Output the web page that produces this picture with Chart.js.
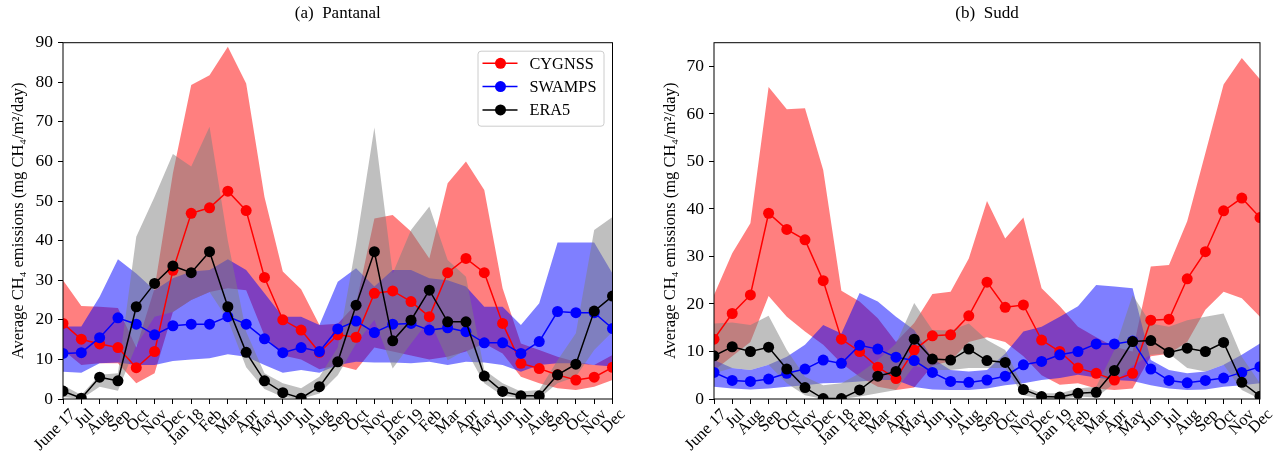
<!DOCTYPE html>
<html>
<head>
<meta charset="utf-8">
<script src="https://cdn.jsdelivr.net/npm/chart.js@4.4.0/dist/chart.umd.min.js"></script>
<style>
  html, body { margin: 0; padding: 0; background: #fff; }
  #wrap { position: relative; width: 1275px; height: 454px; }
  .panel { position: absolute; top: 0; height: 454px; }
  #p1 { left: 0; width: 637px; }
  #p2 { left: 637px; width: 638px; }
</style>
</head>
<body>
<div id="wrap">
  <div class="panel" id="p1"><canvas id="pantanalChart"></canvas></div>
  <div class="panel" id="p2"><canvas id="suddChart"></canvas></div>
</div>
<script>
const months = ['June 17', 'Jul', 'Aug', 'Sep', 'Oct', 'Nov', 'Dec', 'Jan 18', 'Feb', 'Mar', 'Apr', 'May', 'Jun', 'Jul', 'Aug', 'Sep',
  'Oct', 'Nov', 'Dec', 'Jan 19', 'Feb', 'Mar', 'Apr', 'May', 'Jun', 'Jul', 'Aug', 'Sep', 'Oct', 'Nov', 'Dec'];

// (a) Pantanal
const pantanalCygnss = [19.1, 15.1, 13.9, 13.0, 7.9, 12.0, 32.5, 46.9, 48.3, 52.5, 47.6, 30.7, 20.0, 17.4, 11.8, 16.2,
  15.6, 26.7, 27.3, 24.6, 20.8, 31.9, 35.5, 31.9, 19.1, 9.0, 7.7, 6.1, 4.8, 5.5, 8.0];
const pantanalSwamps = [11.5, 11.7, 15.5, 20.5, 18.9, 16.2, 18.5, 18.9, 18.9, 20.8, 18.9, 15.2, 11.7, 13.0, 12.0, 17.7,
  19.7, 16.8, 18.9, 19.1, 17.4, 18.0, 17.0, 14.2, 14.2, 11.5, 14.5, 22.1, 21.8, 21.8, 17.8];
const pantanalEra5 = [2.0, 0.2, 5.5, 4.6, 23.3, 29.2, 33.6, 31.9, 37.2, 23.3, 11.8, 4.6, 1.6, 0.2, 3.1, 9.4,
  23.7, 37.2, 14.7, 19.9, 27.5, 19.5, 19.5, 5.8, 1.9, 0.8, 0.8, 6.1, 8.8, 22.2, 26.0];
const pantanalCygnssHigh = [30, 23.5, 23.3, 23, 13, 28, 57, 79.3, 81.8, 89, 79.7, 51, 32.2, 27.7, 18.7, 19,
  24, 45.6, 46.5, 42.3, 35.5, 54.5, 60, 52.8, 28, 14, 12.4, 10.7, 9.4, 8.6, 11.1];
const pantanalCygnssLow = [12.4, 8.6, 9, 9, 4, 6.5, 22, 25, 27, 28, 27.5, 16, 11, 10, 7.5, 8.5,
  7.3, 13, 12, 11, 10, 10.7, 12, 14, 11.5, 5.6, 4, 2.7, 2.3, 3.1, 4.8];
const pantanalSwampsHigh = [18.3, 18.3, 25.8, 35.3, 31.7, 27.5, 30.5, 32.2, 32.6, 35.3, 32.6, 26.7, 20.8, 20.8, 18.7, 29.6,
  33, 28.4, 32.6, 32.6, 30.5, 30, 28.4, 23.3, 23.3, 18.7, 24.2, 39.5, 39.5, 39.5, 31.7];
const pantanalSwampsLow = [6.9, 6.6, 9, 9.2, 8.6, 8.6, 9.6, 10, 10.3, 11.3, 10.7, 8.6, 6.6, 7.3, 6.6, 8.6,
  9.4, 9.2, 9.2, 9.0, 9.4, 8.6, 9.4, 9.2, 8.6, 6.9, 8.6, 9, 9, 8.6, 8.2];
const pantanalEra5High = [3.5, 1, 6.1, 6.5, 41, 51.1, 61.9, 58.7, 68.8, 40, 17, 6.5, 4, 2.7, 5.6, 13,
  39, 68.6, 31.7, 42.7, 48.6, 35.1, 30.9, 7.3, 4.0, 1.9, 2.3, 9.8, 16.6, 42.7, 46];
const pantanalEra5Low = [0.5, 0, 3.1, 2.1, 13.6, 20.8, 22, 25, 27, 20, 8, 2.5, 0.5, 0, 1.4, 6,
  14, 20, 7.7, 14, 20, 9.8, 12.4, 4.0, 0.8, 0.2, 0.2, 4.0, 5.6, 12.4, 17];

// (b) Sudd
const suddCygnss = [12.6, 18.0, 21.9, 39.1, 35.7, 33.5, 24.9, 12.6, 10.0, 6.7, 4.3, 10.3, 13.3, 13.5, 17.5, 24.6,
  19.3, 19.8, 12.4, 10.0, 6.5, 5.4, 4.0, 5.4, 16.6, 16.8, 25.3, 31.0, 39.6, 42.3, 38.2];
const suddSwamps = [5.6, 3.9, 3.7, 4.2, 5.4, 6.3, 8.2, 7.5, 11.3, 10.5, 8.8, 8.1, 5.6, 3.7, 3.5, 4.0,
  4.8, 7.2, 7.9, 9.3, 10.0, 11.6, 11.6, 12.2, 6.3, 3.9, 3.4, 3.9, 4.4, 5.6, 6.8];
const suddEra5 = [9.1, 11.0, 10.0, 10.9, 6.3, 2.4, 0.1, 0.1, 1.9, 4.8, 5.8, 12.6, 8.4, 8.2, 10.5, 8.1,
  7.7, 2.0, 0.5, 0.4, 1.2, 1.4, 6.0, 12.1, 12.3, 9.8, 10.7, 10.0, 11.9, 3.5, 0.6];
const suddCygnssHigh = [21.9, 30.7, 37, 65.7, 61, 61.2, 48.2, 22.8, 20.5, 17, 12, 16, 22.1, 22.6, 29.6, 41.7,
  33.8, 38.2, 23.3, 19.5, 15.2, 13, 11, 10, 27.9, 28.2, 37.4, 51.8, 66.2, 71.8, 67.3];
const suddCygnssLow = [6, 9, 12, 21.7, 17.3, 14.2, 11.4, 7.5, 4.7, 2.6, 1.9, 2.4, 7, 8, 12, 13,
  12, 9, 5, 3, 3.3, 2.2, 1.9, 2.2, 9, 9.5, 12, 18.8, 22.6, 21.2, 17.3];
const suddSwampsHigh = [8.2, 6.5, 6.1, 7.2, 8.9, 11.4, 15.6, 13.8, 22.3, 20.5, 17.3, 14.5, 8.5, 6.1, 5.8, 6.1,
  9.6, 14.2, 15.2, 17.3, 19.5, 24.0, 23.7, 23.3, 8.2, 6.1, 5.4, 5.8, 7.2, 9.3, 11.7];
const suddSwampsLow = [2.6, 2.2, 2.0, 2.2, 2.6, 2.9, 3.3, 3.4, 3.7, 4.0, 4.0, 2.5, 2.0, 1.9, 1.9, 2.2,
  2.9, 3.3, 4.0, 4.4, 5.1, 4.5, 4.0, 3.8, 2.9, 2.2, 1.9, 2.0, 2.6, 2.9, 3.3];
const suddEra5High = [15.9, 16.1, 15.6, 17.5, 10.3, 4.7, 2.9, 3.3, 5.4, 8.2, 11.7, 20.2, 14.5, 14.4, 15.9, 12.4,
  10.3, 2.6, 1.2, 1.2, 2.2, 2.6, 10.3, 21.9, 15.9, 15.2, 16.6, 17.3, 18.0, 8.9, 3.3];
const suddEra5Low = [5.4, 6.5, 6.1, 7.2, 3.3, 0.8, 0, 0, 0.5, 1.2, 1.9, 7, 6.1, 6.1, 6.5, 6.5,
  6.5, 0.8, 0, 0, 0.5, 0.3, 3.3, 7, 9.3, 9.6, 6.5, 5.8, 7.2, 1.9, 0];

const serif = "'Liberation Serif', 'Times New Roman', serif";

// matplotlib-style box around the axes
const axesFrame = {
  id: 'axesFrame',
  afterDatasetsDraw(chart) {
    const { ctx, chartArea } = chart;
    ctx.save();
    ctx.strokeStyle = '#000';
    ctx.lineWidth = 1;
    ctx.strokeRect(chartArea.left, chartArea.top, chartArea.right - chartArea.left, chartArea.bottom - chartArea.top);
    ctx.restore();
  },
};

// legend drawn inside the axes, upper right
const legendInside = {
  id: 'legendInside',
  afterDatasetsDraw(chart, args, opts) {
    if (!opts.show) return;
    const { ctx, chartArea } = chart;
    const items = chart.data.datasets.filter(d => d.label);
    const w = 126, h = 75;
    const x = chartArea.right - 9 - w;
    const y = chartArea.top + 8;
    ctx.save();
    ctx.fillStyle = 'rgba(255,255,255,0.8)';
    ctx.strokeStyle = '#cccccc';
    ctx.lineWidth = 1;
    ctx.beginPath();
    ctx.roundRect(x + 0.5, y + 0.5, w, h, 3);
    ctx.fill();
    ctx.stroke();
    items.forEach((d, i) => {
      const cy = y + 12.6 + i * 23.3;
      ctx.strokeStyle = d.borderColor;
      ctx.lineWidth = 1.5;
      ctx.beginPath();
      ctx.moveTo(x + 5, cy);
      ctx.lineTo(x + 40, cy);
      ctx.stroke();
      ctx.fillStyle = d.borderColor;
      ctx.beginPath();
      ctx.arc(x + 23, cy, 5.5, 0, Math.PI * 2);
      ctx.fill();
      ctx.fillStyle = '#000';
      ctx.font = '16.3px ' + serif;
      ctx.textBaseline = 'middle';
      ctx.fillText(d.label, x + 52, cy + 1);
    });
    ctx.restore();
  },
};

function lineSet(label, data, color, order) {
  return {
    label: label,
    data: data,
    borderColor: color,
    backgroundColor: color,
    borderWidth: 1.5,
    pointRadius: 5.5,
    pointBorderWidth: 0,
    pointBackgroundColor: color,
    tension: 0,
    fill: false,
    clip: 0,
    order: order,
  };
}

function bandSets(high, low, color, order) {
  return [
    { label: '', data: high, borderWidth: 0, borderColor: 'transparent', pointRadius: 0, fill: false, tension: 0, clip: 0, order: order },
    { label: '', data: low, borderWidth: 0, borderColor: 'transparent', pointRadius: 0, fill: '-1', backgroundColor: color, tension: 0, clip: 0, order: order },
  ];
}

function makeChart(canvasId, opts) {
  const datasets = [
    lineSet('CYGNSS', opts.cygnss, '#ff0000', 2),
    lineSet('SWAMPS', opts.swamps, '#0000ff', 1),
    lineSet('ERA5', opts.era5, '#000000', 0),
    ...bandSets(opts.cygnssHigh, opts.cygnssLow, 'rgba(255,0,0,0.5)', 5),
    ...bandSets(opts.swampsHigh, opts.swampsLow, 'rgba(0,0,255,0.5)', 4),
    ...bandSets(opts.era5High, opts.era5Low, 'rgba(128,128,128,0.5)', 3),
  ];

  return new Chart(document.getElementById(canvasId), {
    type: 'line',
    data: { labels: months, datasets: datasets },
    plugins: [axesFrame, legendInside],
    options: {
      responsive: true,
      maintainAspectRatio: false,
      devicePixelRatio: 1,
      animation: false,
      layout: { padding: { left: 0, right: opts.padRight, top: 0, bottom: 0 } },
      plugins: {
        legend: { display: false },
        tooltip: { enabled: false },
        title: {
          display: true,
          text: opts.title,
          fullSize: false,
          color: '#000',
          font: { family: serif, size: 17, weight: 'normal' },
          padding: { top: 3, bottom: 19.3 },
        },
        legendInside: { show: opts.showLegend },
      },
      scales: {
        x: {
          offset: false,
          grid: { drawOnChartArea: false, drawTicks: true, tickLength: 5, color: '#000' },
          border: { display: false },
          ticks: {
            autoSkip: false,
            minRotation: 45,
            maxRotation: 45,
            labelOffset: 10,
            padding: 1,
            color: '#000',
            font: { family: serif, size: 16.5 },
          },
          afterFit(scale) { scale.height = 55; },
        },
        y: {
          min: 0,
          max: opts.yMax,
          grid: { drawOnChartArea: false, drawTicks: true, tickLength: 5, color: '#000' },
          border: { display: false },
          ticks: {
            stepSize: 10,
            padding: 5,
            color: '#000',
            font: { family: serif, size: 17.5 },
          },
          afterBuildTicks(scale) {
            scale.ticks = scale.ticks.filter(t => t.value % 10 === 0);
          },
          title: {
            display: true,
            text: 'Average CH\u2084 emissions (mg CH\u2084/m\u00b2/day)',
            color: '#000',
            font: { family: serif, size: 16.5 },
            padding: { top: opts.yTitlePad, bottom: 0 },
          },
          afterFit(scale) { scale.width = opts.yWidth; },
        },
      },
    },
  });
}

makeChart('pantanalChart', {
  title: '(a)  Pantanal',
  cygnss: pantanalCygnss, swamps: pantanalSwamps, era5: pantanalEra5,
  cygnssHigh: pantanalCygnssHigh, cygnssLow: pantanalCygnssLow,
  swampsHigh: pantanalSwampsHigh, swampsLow: pantanalSwampsLow,
  era5High: pantanalEra5High, era5Low: pantanalEra5Low,
  yMax: 90, yWidth: 63, yTitlePad: 9, padRight: 24.5, showLegend: true,
});

makeChart('suddChart', {
  title: '(b)  Sudd',
  cygnss: suddCygnss, swamps: suddSwamps, era5: suddEra5,
  cygnssHigh: suddCygnssHigh, cygnssLow: suddCygnssLow,
  swampsHigh: suddSwampsHigh, swampsLow: suddSwampsLow,
  era5High: suddEra5High, era5Low: suddEra5Low,
  yMax: 75, yWidth: 77, yTitlePad: 23.5, padRight: 11.7, showLegend: false,
});
</script>
</body>
</html>
